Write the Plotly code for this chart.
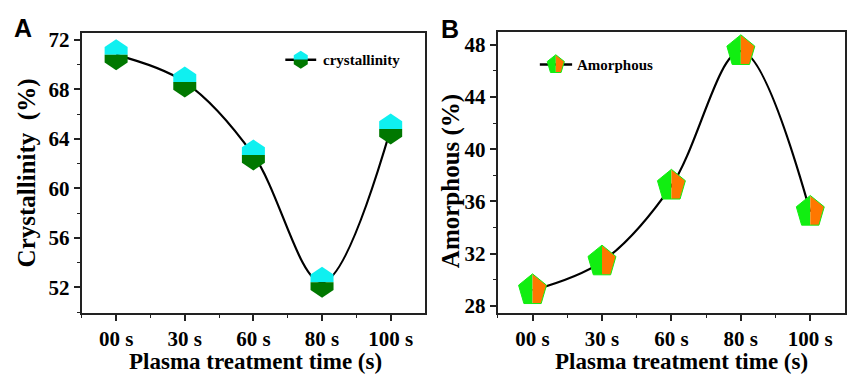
import plotly.graph_objects as go

categories = ["00 s", "30 s", "60 s", "80 s", "100 s"]
crystallinity = [70.8, 68.6, 62.7, 52.4, 64.8]
amorphous = [29.2, 31.4, 37.2, 47.5, 35.2]
yticks_a = [52, 56, 60, 64, 68, 72]
yticks_b = [28, 32, 36, 40, 44, 48]

CYAN = "#0ff0f0"
DKGREEN = "#007800"
GREEN = "#11ee11"
ORANGE = "#ff7700"
SERIF = "Liberation Serif"

xs = list(range(len(categories)))

fig = go.Figure()
fig.add_trace(go.Scatter(x=xs, y=crystallinity, mode="lines",
                         line=dict(color="black", width=2.2, shape="spline", smoothing=1.0),
                         xaxis="x", yaxis="y", showlegend=False))
fig.add_trace(go.Scatter(x=xs, y=amorphous, mode="lines",
                         line=dict(color="black", width=2.2, shape="spline", smoothing=1.0),
                         xaxis="x2", yaxis="y2", showlegend=False))


def fmt(pts):
    return "M" + " L".join(f"{px:.2f},{py:.2f}" for px, py in pts) + " Z"


def hexagon_shapes(xa, ya, xref, yref, hw, hh):
    # pointy-top hexagon, top half cyan, bottom half dark green (pixel units, y up)
    top = [(-hw, 0), (-hw, hh / 2), (0, hh), (hw, hh / 2), (hw, 0)]
    bot = [(-hw, 0), (-hw, -hh / 2), (0, -hh), (hw, -hh / 2), (hw, 0)]
    out = []
    for pts, col in ((top, CYAN), (bot, DKGREEN)):
        out.append(dict(type="path", path=fmt(pts), xref=xref, yref=yref,
                        xsizemode="pixel", ysizemode="pixel", xanchor=xa, yanchor=ya,
                        fillcolor=col, line=dict(width=0), layer="above"))
    return out


def pentagon_shapes(xa, ya, xref, yref, rx, ry):
    import math
    c18, s18 = math.cos(math.radians(18)), math.sin(math.radians(18))
    c54, s54 = math.cos(math.radians(54)), math.sin(math.radians(54))
    left = [(0, ry), (-c18 * rx, s18 * ry), (-c54 * rx, -s54 * ry), (0, -s54 * ry)]
    right = [(0, ry), (c18 * rx, s18 * ry), (c54 * rx, -s54 * ry), (0, -s54 * ry)]
    out = []
    for pts, col in ((left, GREEN), (right, ORANGE)):
        out.append(dict(type="path", path=fmt(pts), xref=xref, yref=yref,
                        xsizemode="pixel", ysizemode="pixel", xanchor=xa, yanchor=ya,
                        fillcolor=col, line=dict(width=0), layer="above"))
    full = [(0, ry), (c18 * rx, s18 * ry), (c54 * rx, -s54 * ry),
            (-c54 * rx, -s54 * ry), (-c18 * rx, s18 * ry)]
    out.append(dict(type="path", path=fmt(full), xref=xref, yref=yref,
                    xsizemode="pixel", ysizemode="pixel", xanchor=xa, yanchor=ya,
                    fillcolor="rgba(0,0,0,0)", line=dict(width=1, color=GREEN), layer="above"))
    return out


shapes = []
for xv, yv in zip(xs, crystallinity):
    shapes += hexagon_shapes(xv, yv, "x", "y", 11.5, 15.5)
for xv, yv in zip(xs, amorphous):
    shapes += pentagon_shapes(xv, yv, "x2", "y2", 14.7, 16.4)

# legends (manual)
shapes.append(dict(type="line", xref="x domain", yref="y domain", x0=0.593, x1=0.683,
                   y0=0.905, y1=0.905, line=dict(color="black", width=2.5), layer="above"))
shapes += hexagon_shapes(0.638, 0.905, "x domain", "y domain", 7, 9)
shapes.append(dict(type="line", xref="x2 domain", yref="y2 domain", x0=0.121, x1=0.214,
                   y0=0.885, y1=0.885, line=dict(color="black", width=2.5), layer="above"))
shapes += pentagon_shapes(0.167, 0.885, "x2 domain", "y2 domain", 9, 9.8)

annotations = [
    dict(text="<b>crystallinity</b>", x=0.697, y=0.905, xref="x domain", yref="y domain",
         xanchor="left", yanchor="middle", showarrow=False,
         font=dict(family=SERIF, size=15, color="black")),
    dict(text="<b>Amorphous</b>", x=0.223, y=0.885, xref="x2 domain", yref="y2 domain",
         xanchor="left", yanchor="middle", showarrow=False,
         font=dict(family=SERIF, size=15, color="black")),
    dict(text="<b>A</b>", x=12 / 847, y=1 - 24 / 378, xref="paper", yref="paper",
         xanchor="left", yanchor="middle", showarrow=False,
         font=dict(family="Liberation Sans", size=25, color="black")),
    dict(text="<b>B</b>", x=440 / 847, y=1 - 25 / 378, xref="paper", yref="paper",
         xanchor="left", yanchor="middle", showarrow=False,
         font=dict(family="Liberation Sans", size=25, color="black")),
    dict(text="<b>Crystallinity  (%)</b>", x=28 / 847, y=1 - 172 / 378, xref="paper", yref="paper",
         xanchor="center", yanchor="middle", textangle=-90, showarrow=False,
         font=dict(family=SERIF, size=25, color="black")),
    dict(text="<b>Amorphous (%)</b>", x=452 / 847, y=1 - 181 / 378, xref="paper", yref="paper",
         xanchor="center", yanchor="middle", textangle=-90, showarrow=False,
         font=dict(family=SERIF, size=25, color="black")),
    dict(text="<b>Plasma treatment time (s)</b>", x=256 / 847, y=1 - 366 / 378, xref="paper", yref="paper",
         xanchor="center", yanchor="middle", showarrow=False,
         font=dict(family=SERIF, size=23, color="black")),
    dict(text="<b>Plasma treatment time (s)</b>", x=683 / 847, y=1 - 366 / 378, xref="paper", yref="paper",
         xanchor="center", yanchor="middle", showarrow=False,
         font=dict(family=SERIF, size=23, color="black")),
]

axis_common = dict(showline=True, linecolor="#222222", linewidth=2, mirror=True,
                   ticks="outside", ticklen=6, tickwidth=1.5, tickcolor="#222222",
                   showgrid=False, zeroline=False,
                   tickfont=dict(family=SERIF, size=21, color="black"))

tickvals_x = xs
ticktext_x = [f"<b>{c}</b>" for c in categories]

fig.update_layout(
    width=847, height=378,
    margin=dict(l=0, r=0, t=0, b=0),
    paper_bgcolor="white", plot_bgcolor="white",
    showlegend=False,
    xaxis=dict(domain=[82 / 847, 426 / 847], range=[-0.5, 4.5], tickvals=tickvals_x,
               ticktext=ticktext_x, anchor="y",
               minor=dict(tickvals=[-0.5, 0.5, 1.5, 2.5, 3.5], ticklen=3, tickwidth=1.2,
                          tickcolor="#222222", ticks="outside"),
               **axis_common),
    yaxis=dict(domain=[1 - 316 / 378, 1 - 29 / 378], range=[49.95, 72.55], tickvals=yticks_a,
               ticktext=[f"<b>{v}</b>" for v in yticks_a], anchor="x",
               minor=dict(dtick=2, tick0=50, ticklen=3, tickwidth=1.2, tickcolor="#222222",
                          ticks="outside"),
               **axis_common),
    xaxis2=dict(domain=[499 / 847, 1.0], range=[-0.5, 4.5], tickvals=tickvals_x,
                ticktext=ticktext_x, anchor="y2",
                minor=dict(tickvals=[-0.5, 0.5, 1.5, 2.5, 3.5], ticklen=3, tickwidth=1.2,
                           tickcolor="#222222", ticks="outside"),
                **axis_common),
    yaxis2=dict(domain=[1 - 316.5 / 378, 1 - 28 / 378], range=[27.45, 48.95], tickvals=yticks_b,
                ticktext=[f"<b>{v}</b>" for v in yticks_b], anchor="x2",
                minor=dict(dtick=2, tick0=26, ticklen=3, tickwidth=1.2, tickcolor="#222222",
                           ticks="outside"),
                **axis_common),
    shapes=shapes,
    annotations=annotations,
)

fig.write_html("out.html")
